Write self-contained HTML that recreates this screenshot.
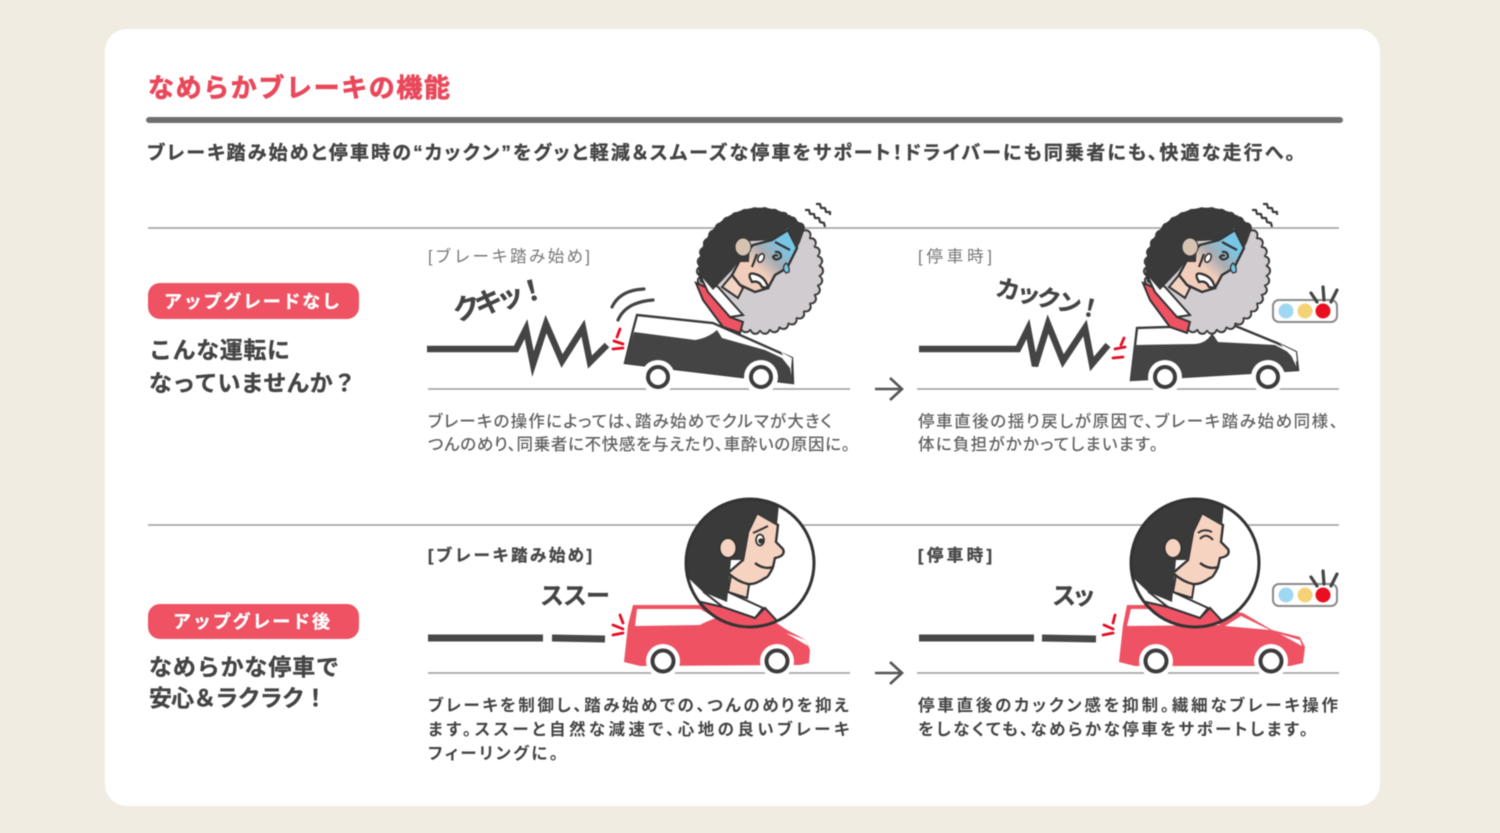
<!DOCTYPE html>
<html lang="ja"><head><meta charset="utf-8"><title>なめらかブレーキの機能</title>
<style>
html,body{margin:0;padding:0;width:1500px;height:833px;overflow:hidden;background:#f0ece2}
svg{display:block;filter:blur(.5px)}
text{font-family:"Liberation Sans","Noto Sans CJK JP",sans-serif}
.b{font-weight:700;stroke-width:.35px}
.p{font-feature-settings:"palt"}
.d1{font-size:16.5px;fill:#626262;font-weight:500;font-feature-settings:"palt"}
.d2{font-size:16.5px;fill:#444;font-weight:700;font-feature-settings:"palt"}
.l{font-size:16.5px}
.z{fill:none;stroke:#444;stroke-width:6.5;stroke-linejoin:miter}
.rm{fill:none;stroke:#e60d25;stroke-width:2.8;stroke-linecap:round}
.w{fill:#fff;stroke:#3c3c3c;stroke-width:4}
.ln{stroke:#9a9a9a;stroke-width:1.5}
.dash{stroke:#484848;stroke-width:7}
</style></head><body>
<svg width="1500" height="833" viewBox="0 0 1500 833" xmlns="http://www.w3.org/2000/svg">
<defs>
<clipPath id="cc"><circle cx="750" cy="563" r="64"/></clipPath>
<linearGradient id="fg" x1="0.9" y1="0.05" x2="0.15" y2="0.8">
<stop offset="0.2" stop-color="#78c6e6"/><stop offset="0.48" stop-color="#a9adb2"/><stop offset="0.72" stop-color="#f2cdbb"/>
</linearGradient>
<g id="person">
<circle cx="750" cy="563" r="64" fill="#fff"/>
<g clip-path="url(#cc)">
<path d="M701,602 L723,607 L755,618 L765,608 L778,622 L760,635 L705,635Z" fill="#ee5263" stroke="#333" stroke-width="2"/>
<path d="M731,575 L728,592 L747,598 L749,585Z" fill="#f6d3c1" stroke="#333" stroke-width="2"/>
<path d="M705,593 L728,592 L763,608 L755,618 L723,607Z" fill="#fff" stroke="#333" stroke-width="2"/>
<path d="M748,532 L757,513 L778,525 L776,542 L783,549 Q786,556 775,558 L773,567 Q768,578 765,578 Q755,585 748,584 Q738,582 728,573 L743,560Z" fill="#f6d3c1" stroke="#333" stroke-width="2.4"/>
<path d="M779,504 L777,525 L757,513 L748,532 L743,560 L731,560 L727,602 L703,592 L680,570 L680,490 L780,490Z" fill="#3a3a3a"/>
<ellipse cx="728" cy="548" rx="8.5" ry="10" fill="#f6d3c1" stroke="#333" stroke-width="2"/>
<path d="M755,563 Q764,570 773,567" fill="none" stroke="#333" stroke-width="2.4"/>
</g>
<circle cx="750" cy="563" r="64" fill="none" stroke="#333" stroke-width="3"/>
</g>
<g id="stress">
<circle cx="760" cy="271" r="60" fill="#3a3a3a"/>
<circle cx="760" cy="271" r="58.5" fill="none" stroke="#3a3a3a" stroke-width="11" stroke-linecap="round" pathLength="38" stroke-dasharray="0 1"/>
<circle cx="760" cy="271" r="59" fill="#d0ccd0"/>
<circle cx="760" cy="271" r="58" fill="none" stroke="#d0ccd0" stroke-width="8" stroke-linecap="round" pathLength="38" stroke-dasharray="0 1"/>
<path d="M700,282 A61,61 0 0 1 805,228 L800,242 L797,248 L788,228 L772,240 L750,241 L749,262 L738,262 L732,270 L713,290Z" fill="#3a3a3a"/>
<path d="M696,283 L703,300 L723,327 L740,333 L743,322 L730,317 L708,288Z" fill="#ee5263" stroke="#333" stroke-width="2"/>
<path d="M732,275 L722,287 L738,298 L743,288Z" fill="#f3d3c2" stroke="#333" stroke-width="2"/>
<path d="M700,275 L718,287 L743,315 L730,317 L708,292Z" fill="#fff" stroke="#333" stroke-width="2"/>
<path d="M753,245 L772,240 L788,230 L797,248 L787,268 L775,275 L768,288 L755,292 L740,285 L732,275 L740,260Z" fill="url(#fg)" stroke="#333" stroke-width="2.4"/>
<path d="M805,228 L800,242 L797,248 L788,228 L772,240 L750,241 L749,262 L738,262 L732,270 L713,290 L700,275 L705,240 L740,215 L790,215Z" fill="#3a3a3a"/>
<ellipse cx="743" cy="247" rx="8" ry="9" fill="#d6c3b2" stroke="#333" stroke-width="1"/>
<path d="M752,267 L757,254 M775,242 L790,250 M775,252 Q781,251 781,257 Q776,262 773,257 Q775,254 778,256" fill="none" stroke="#333" stroke-width="2.2"/>
<ellipse cx="761" cy="258" rx="2.8" ry="4.5" transform="rotate(25 761 258)" fill="#fff" stroke="#333" stroke-width="1.6"/>
<path d="M750,278 Q748,272 755,274 Q766,277 768,288 L762,287 Q759,280 752,282Z" fill="#fff" stroke="#333" stroke-width="2.3"/>
<path d="M786,273 Q781,268 786,263 Q790,266 789,272Z" fill="#78c6e6" stroke="#333" stroke-width="1.3"/>
</g>
<g id="tl">
<rect x="1273" y="300" width="64" height="22" rx="6" fill="#fff" stroke="#8a8a8a" stroke-width="2"/>
<circle cx="1286" cy="311" r="7.5" fill="#9fd8f2"/><circle cx="1305" cy="311" r="7.5" fill="#f6d276"/><circle cx="1323" cy="311" r="7.5" fill="#ea0f1e"/>
<path d="M1311,293 L1317,302 M1323,287 L1324,300 M1337,290 L1331,302" stroke="#444" stroke-width="3.2" stroke-linecap="round"/>
</g>
<path id="sq" d="M805,210 l4,0 l1,4 l4,0 l1,4 l4,0 l1,4 l4,1 l1,4 M816,204 l4,0 l1,4 l4,0 l1,4 l4,0 l0,3" fill="none" stroke="#3a3a3a" stroke-width="2.2" stroke-linejoin="round"/>
</defs>

<rect x="105" y="29" width="1275" height="777" rx="22" fill="#fff"/>
<text x="148" y="97" font-size="26" font-weight="700" fill="#e9485b" stroke="#e9485b" stroke-width=".7" textLength="302">なめらかブレーキの機能</text>
<rect x="146" y="117" width="1197" height="6" rx="3" fill="#6f6f6f"/>
<text class="b p" stroke="#444" x="147" y="159" font-size="19" fill="#444" textLength="1148">ブレーキ踏み始めと停車時の“カックン”をグッと軽減&#xFF06;スムーズな停車をサポート&#xFF01;ドライバーにも同乗者にも、快適な走行へ。</text>

<line class="ln" x1="148" y1="228" x2="1339" y2="228"/>
<line class="ln" x1="148" y1="525" x2="1339" y2="525"/>
<line class="ln" x1="428" y1="389" x2="850" y2="389"/>
<line class="ln" x1="917" y1="389" x2="1339" y2="389"/>
<line class="ln" x1="428" y1="673" x2="850" y2="673"/>
<line class="ln" x1="917" y1="673" x2="1339" y2="673"/>

<rect x="148" y="283" width="211" height="36" rx="12" fill="#ee5263"/>
<text class="b" x="164" y="308" font-size="18" fill="#fff" stroke="#fff" textLength="176">アップグレードなし</text>
<text class="b" stroke="#444" x="149" y="358" font-size="23" fill="#444" textLength="141">こんな運転に</text>
<text class="b" stroke="#444" x="149" y="391" font-size="23" fill="#444" textLength="207">なっていませんか&#xFF1F;</text>
<rect x="148" y="604" width="211" height="35" rx="12" fill="#ee5263"/>
<text class="b" x="173" y="628" font-size="18" fill="#fff" stroke="#fff" textLength="157">アップグレード後</text>
<text class="b" stroke="#444" x="149" y="675" font-size="23" fill="#444" textLength="190">なめらかな停車で</text>
<text class="b" stroke="#444" x="149" y="706" font-size="23" fill="#444" textLength="178">安心&#xFF06;ラクラク&#xFF01;</text>

<text class="l" x="428" y="262" fill="#777" textLength="162">[ブレーキ踏み始め]</text>
<text class="l" x="918" y="262" fill="#777" textLength="74">[停車時]</text>
<text class="l b" stroke="#484848" x="428" y="561" fill="#484848" textLength="164">[ブレーキ踏み始め]</text>
<text class="l b" stroke="#484848" x="918" y="561" fill="#484848" textLength="74">[停車時]</text>

<!-- row 1 col 1 -->
<path class="z" d="M427,349 H516 L526,329 L533,364 L546,324 L562,361 L583,328 L590,362 L607,345"/>
<text class="b" stroke="#444" font-size="28" fill="#444" text-anchor="middle" transform="translate(502,309) rotate(-15)" textLength="96">クキッ&#xFF01;</text>
<path d="M612,307 Q620,290 644,289 M618,320 Q626,302 653,300" fill="none" stroke="#444" stroke-width="3.2" stroke-linecap="round"/>
<path class="rm" d="M620,329 L617,337 M614,341 L623,344 M613,349 L623,348"/>
<path d="M637,315 L713,323 L792,358 L793,383 L625,363 L633,330Z" fill="#fff" stroke="#3c3c3c" stroke-width="2.4"/>
<path d="M634,332 L695,340 Q708,338 717,330 L722,338 L765,350 L782,358 L790,368 L793,383 L625,363Z" fill="#444"/>
<path d="M781,352 L792,358 L791,368Z" fill="#fff"/>
<circle cx="658" cy="377" r="17" fill="#fff"/><circle cx="761" cy="377" r="17" fill="#fff"/>
<circle cx="658" cy="377" r="10" class="w"/><circle cx="761" cy="377" r="10" class="w"/>
<use href="#stress"/>
<use href="#sq"/>

<line x1="875" y1="389" x2="902" y2="389" stroke="#555" stroke-width="2.6"/>
<path d="M890,378 L902,389 L890,400" fill="none" stroke="#555" stroke-width="2.6"/>

<!-- row 1 col 2 -->
<path class="z" d="M919,349 H1018 L1028,329 L1035,366 L1048,324 L1063,361 L1085,328 L1092,364 L1108,345"/>
<text class="b" stroke="#444" font-size="24" fill="#444" text-anchor="middle" transform="translate(1047,307) rotate(13)" textLength="108">カックン&#xFF01;</text>
<path class="rm" d="M1124,338 L1121,345 M1115,349 L1125,347 M1113,358 L1123,357"/>
<path d="M1137,328 L1233,325 L1277,343 L1296,352 L1298,370 L1131,380Z" fill="#fff" stroke="#3c3c3c" stroke-width="2.4"/>
<path d="M1135,345 L1195,344 Q1207,343 1212,333 L1218,342 L1275,345 L1290,353 L1298,370 L1131,381Z" fill="#444"/>
<path d="M1280,344 L1296,352 L1297,362Z" fill="#fff"/>
<circle cx="1165" cy="377" r="17" fill="#fff"/><circle cx="1268" cy="377" r="17" fill="#fff"/>
<circle cx="1165" cy="377" r="10" class="w"/><circle cx="1268" cy="377" r="10" class="w"/>
<use href="#stress" x="447"/>
<use href="#sq" x="447"/>
<use href="#tl"/>

<text class="d1" x="428" y="427" textLength="404">ブレーキの操作によっては、踏み始めでクルマが大きく</text>
<text class="d1" x="428" y="450" textLength="422">つんのめり、同乗者に不快感を与えたり、車酔いの原因に。</text>
<text class="d1" x="918" y="427" textLength="420">停車直後の揺り戻しが原因で、ブレーキ踏み始め同様、</text>
<text class="d1" x="918" y="450" textLength="240">体に負担がかかってしまいます。</text>

<!-- row 2 col 1 -->
<text class="b" stroke="#444" x="540" y="604" font-size="24" fill="#444" textLength="70">ススー</text>
<line class="dash" x1="428" y1="638" x2="543" y2="638"/>
<line class="dash" x1="552" y1="638" x2="605" y2="639"/>
<path class="rm" d="M620,615 L623,623 M613,625 L623,629 M613,635 L623,633"/>
<path d="M633,605 L700,605 L760,612 L787,630 L806,640 L810,650 L809,663 L800,665 L640,666 L624,662 L628,625Z" fill="#ee5263"/>
<path d="M637,609 L700,609 L716,618 Q705,622 700,625 L635,626Z" fill="#fff"/>
<path d="M786,633 L806,640 L808,646Z" fill="#fff"/>
<circle cx="663" cy="661" r="17" fill="#fff"/><circle cx="777" cy="661" r="17" fill="#fff"/>
<circle cx="663" cy="661" r="10.5" class="w"/><circle cx="777" cy="661" r="10.5" class="w"/>
<use href="#person"/>
<path d="M753,533 Q760,530 768,526" fill="none" stroke="#333" stroke-width="2"/>
<ellipse cx="760" cy="540" rx="4" ry="5.5" fill="#fff" stroke="#333" stroke-width="1.8"/>
<circle cx="761" cy="541" r="2.8" fill="#333"/>

<line x1="875" y1="673" x2="902" y2="673" stroke="#555" stroke-width="2.6"/>
<path d="M890,662 L902,673 L890,684" fill="none" stroke="#555" stroke-width="2.6"/>

<!-- row 2 col 2 -->
<text class="b" stroke="#444" x="1052" y="604" font-size="24" fill="#444" textLength="44">スッ</text>
<line class="dash" x1="919" y1="638" x2="1034" y2="638"/>
<line class="dash" x1="1042" y1="638" x2="1096" y2="639"/>
<path class="rm" d="M1115,615 L1113,623 M1104,625 L1113,629 M1103,635 L1113,633"/>
<path d="M1127,605 L1200,605 L1243,613 L1272,630 L1300,637 L1305,647 L1303,663 L1290,666 L1135,666 L1119,662 L1123,625Z" fill="#ee5263"/>
<path d="M1131,609 L1200,609 L1220,625 L1127,626Z" fill="#fff"/>
<path d="M1241,616 L1270,630 L1225,626Z" fill="#fff"/>
<path d="M1280,634 L1300,640 L1302,646Z" fill="#fff"/>
<circle cx="1156" cy="661" r="17" fill="#fff"/><circle cx="1271" cy="661" r="17" fill="#fff"/>
<circle cx="1156" cy="661" r="10.5" class="w"/><circle cx="1271" cy="661" r="10.5" class="w"/>
<use href="#person" x="445"/>
<path d="M1200,539 Q1206,532 1213,540 M1198,533 Q1204,528 1212,532" fill="none" stroke="#333" stroke-width="2"/>
<use href="#tl" y="284"/>

<text class="d2" x="428" y="711" textLength="421">ブレーキを制御し、踏み始めでの、つんのめりを抑え</text>
<text class="d2" x="428" y="735" textLength="421">ます。ススーと自然な減速で、心地の良いブレーキ</text>
<text class="d2" x="428" y="759" textLength="130">フィーリングに。</text>
<text class="d2" x="918" y="711" textLength="420">停車直後のカックン感を抑制。繊細なブレーキ操作</text>
<text class="d2" x="918" y="735" textLength="390">をしなくても、なめらかな停車をサポートします。</text>
</svg>
</body></html>
